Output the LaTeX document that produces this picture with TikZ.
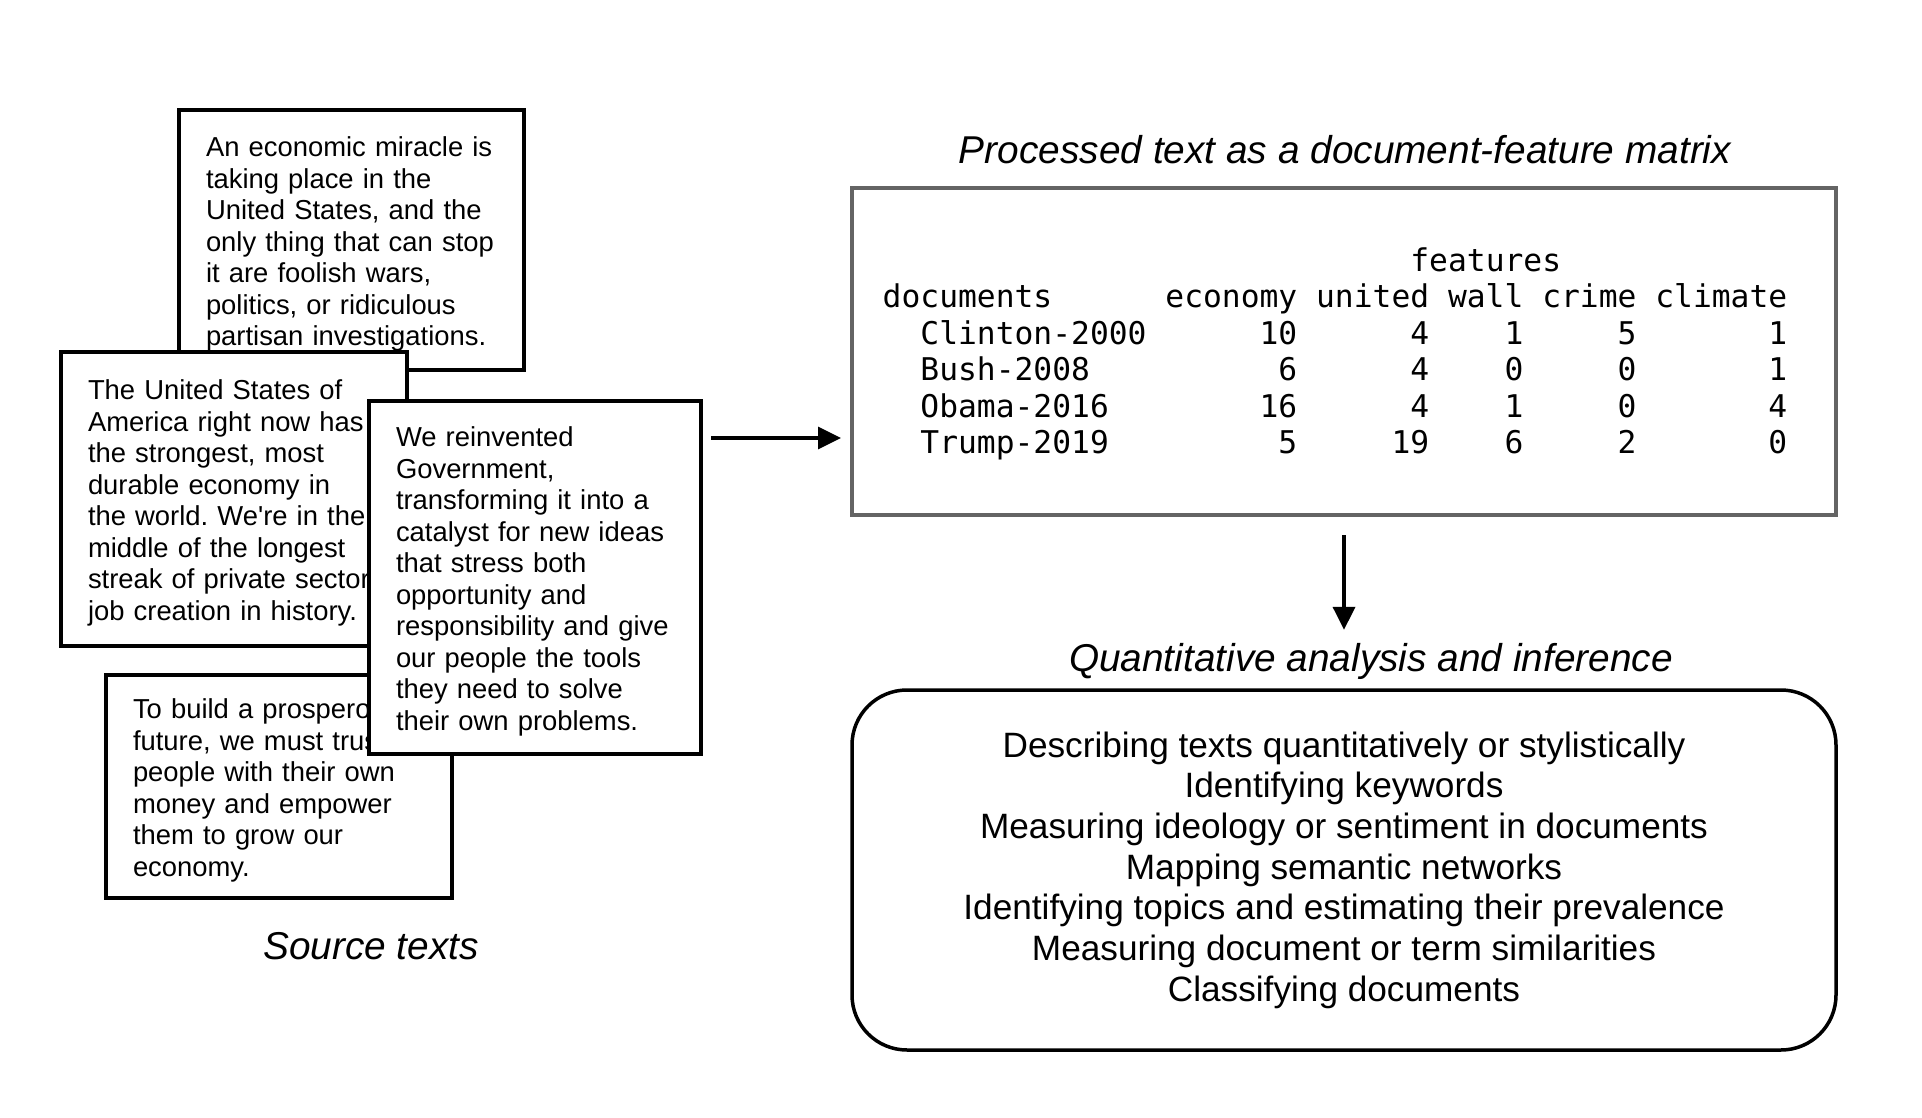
\documentclass[tikz,border=0pt]{standalone}
\usepackage{fontspec}
\setmainfont{Liberation Sans}
\newfontfamily\dfmfont{DejaVu Sans Mono}
\usepackage{tikz}
\usetikzlibrary{arrows.meta}
\frenchspacing

\newlength\dfmch
\definecolor{dfmgray}{HTML}{646464}

\tikzset{
	sourcebox/.style={draw,
		line width=1.75pt,
		fill=white,
		align=left,
		inner xsep=13.5pt,
		inner ysep=0pt,
		execute at begin node={\rule{0pt}{14pt}},
		font=\fontsize{13.7}{15.75}\selectfont
	},
	caption/.style={anchor=base, font=\fontsize{19.4}{23}\selectfont\itshape},
	flow/.style={line width=1.75pt, -{Triangle[length=11.5pt, width=11pt]}},
}

\begin{document}
\begin{tikzpicture}[x=0.5pt, y=-0.5pt]

\useasboundingbox (0,0) rectangle (1922,1118);

% Source text: economic miracle
\node [sourcebox,
	text width=145.5pt,
	minimum height=130pt
] (src_miracle) at (351.5, 240) {
An economic miracle is\\
taking place in the\\
United States, and the\\
only thing that can stop\\
it are foolish wars,\\
politics, or ridiculous\\
partisan investigations.
};

% Source text: strongest economy
\node [sourcebox,
	text width=146pt,
	minimum height=147pt
] (src_strongest) at (234, 499) {
The United States of\\
America right now has\\
the strongest, most\\
durable economy in\\
the world. We\textquotesingle re in the\\
middle of the longest\\
streak of private sector\\
job creation in history.
};

% Source text: prosperous future
\node [sourcebox,
	text width=146pt,
	minimum height=111.5pt
] (src_prosperous) at (279, 786.5) {
To build a prosperous\\
future, we must trust\\
people with their own\\
money and empower\\
them to grow our\\
economy.
};

% Source text: reinvented government
\node [sourcebox,
	text width=139pt,
	minimum height=176.5pt
] (src_reinvented) at (535, 577.5) {
We reinvented\\
Government,\\
transforming it into a\\
catalyst for new ideas\\
that stress both\\
opportunity and\\
responsibility and give\\
our people the tools\\
they need to solve\\
their own problems.
};

\node [caption] (source_title) at (371, 959) {Source texts};

% Document-feature matrix
\node [caption] (dfm_title) at (1345, 164) {Processed text as a document-feature matrix};

\node [draw=dfmgray,
	line width=2pt,
	minimum width=492pt,
	minimum height=163.5pt
] (dfm) at (1344, 351.5) {};

\node [font=\dfmfont\fontsize{15.65}{18.25}\selectfont] (dfm_text) at (1335, 355) {%
\settowidth\dfmch{0}%
\begin{tabular}{@{}l@{\ }r@{\ }r@{\ }r@{\ }r@{\ }r@{}}
\multicolumn{6}{@{}l@{}}{\hspace*{28\dfmch}features}\\
documents & economy & united & wall & crime & climate\\
\ \ Clinton-2000 & 10 & 4 & 1 & 5 & 1\\
\ \ Bush-2008 & 6 & 4 & 0 & 0 & 1\\
\ \ Obama-2016 & 16 & 4 & 1 & 0 & 4\\
\ \ Trump-2019 & 5 & 19 & 6 & 2 & 0
\end{tabular}%
};

% Quantitative analysis
\node [caption] (analysis_title) at (1371, 671) {Quantitative analysis and inference};

\node [draw,
	line width=1.75pt,
	rounded corners=27.5pt,
	minimum width=492pt,
	minimum height=180pt,
	align=center,
	font=\fontsize{17.6}{20.33}\selectfont
] (analysis) at (1344, 870) {
Describing texts quantitatively or stylistically\\
Identifying keywords\\
Measuring ideology or sentiment in documents\\
Mapping semantic networks\\
Identifying topics and estimating their prevalence\\
Measuring document or term similarities\\
Classifying documents
};

% Arrows
\coordinate (flow_start) at (711, 438);
\draw [flow, shorten >=4.5pt] (flow_start) -- (flow_start -| dfm.west);
\draw [flow, shorten >=3pt] ([yshift=-9pt]dfm.south) -- (dfm.south |- analysis_title.north);

\end{tikzpicture}
\end{document}
